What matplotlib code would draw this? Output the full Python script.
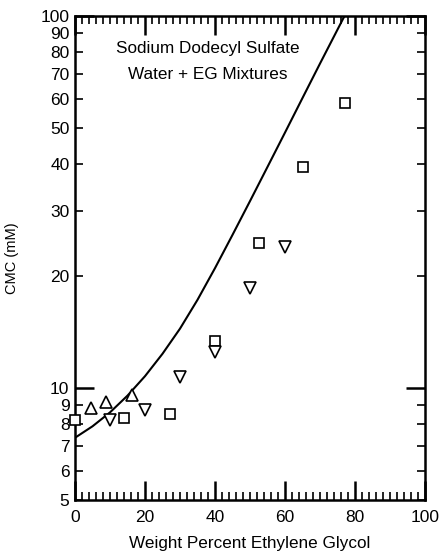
import matplotlib
matplotlib.use('Agg')
import matplotlib.pyplot as plt
import matplotlib.ticker as ticker

plt.rcParams['font.family'] = ['Liberation Sans', 'DejaVu Sans']

# squares
sq_x = [0, 14, 27, 40, 52.5, 65, 77]
sq_y = [8.2, 8.3, 8.5, 13.4, 24.6, 39.3, 58.3]
# up triangles
up_x = [4.7, 8.9, 16.2]
up_y = [8.85, 9.15, 9.55]
# down triangles
dn_x = [10, 20, 30, 40, 50, 60]
dn_y = [8.2, 8.75, 10.7, 12.5, 18.6, 23.9]
# model curve
fit_x = [0, 5, 10, 15, 20, 25, 30, 35, 40, 45, 50, 55, 60, 65, 70, 77]
fit_y = [7.35, 7.89, 8.6, 9.54, 10.76, 12.36, 14.44, 17.26, 21.0, 25.8, 31.8, 39.3, 48.6, 60.2, 74.5, 100.0]

ytick_major = [10, 100]
ytick_minor = [5, 6, 7, 8, 9, 20, 30, 40, 50, 60, 70, 80, 90]

fig = plt.figure(figsize=(4.4, 5.54), dpi=100)
ax = fig.add_axes([75 / 440, 1 - 500 / 554, 350 / 440, 484 / 554])

ax.plot(fit_x, fit_y, color='black', lw=1.5)
ax.plot(sq_x, sq_y, 's', ms=7.5, mfc='white', mec='black', mew=1.2, ls='none', clip_on=False, zorder=5)
ax.plot(up_x, up_y, '^', ms=8.5, mfc='white', mec='black', mew=1.2, ls='none', clip_on=False, zorder=5)
ax.plot(dn_x, dn_y, 'v', ms=8.5, mfc='white', mec='black', mew=1.2, ls='none', clip_on=False, zorder=5)

ax.set_yscale('log')
ax.set_xlim(0, 100)
ax.set_ylim(5, 100)

ax.xaxis.set_major_locator(ticker.MultipleLocator(20))
ax.xaxis.set_minor_locator(ticker.MultipleLocator(2))
ax.yaxis.set_major_locator(ticker.FixedLocator(ytick_major))
ax.yaxis.set_minor_locator(ticker.FixedLocator(ytick_minor))
fmt = ticker.FuncFormatter(lambda v, p: '%g' % v)
ax.yaxis.set_major_formatter(fmt)
ax.yaxis.set_minor_formatter(fmt)

ax.tick_params(which='both', direction='in', top=True, right=True, labelsize=12.5, width=1.2)
ax.tick_params(which='major', length=14, width=1.8)
ax.tick_params(which='minor', length=6)
ax.tick_params(axis='y', which='both', pad=4)
ax.tick_params(axis='x', which='both', pad=7)
for s in ax.spines.values():
    s.set_linewidth(1.8)

ax.text(38, 82, 'Sodium Dodecyl Sulfate', ha='center', va='center', fontsize=12.3)
ax.text(38, 69.5, 'Water + EG Mixtures', ha='center', va='center', fontsize=12.3)

ax.set_xlabel('Weight Percent Ethylene Glycol', fontsize=12.3, labelpad=8)
ax.set_ylabel('CMC (mM)', fontsize=10.5)
ax.yaxis.set_label_coords(-0.16, 0.5)

fig.savefig('out.png', dpi=100)
